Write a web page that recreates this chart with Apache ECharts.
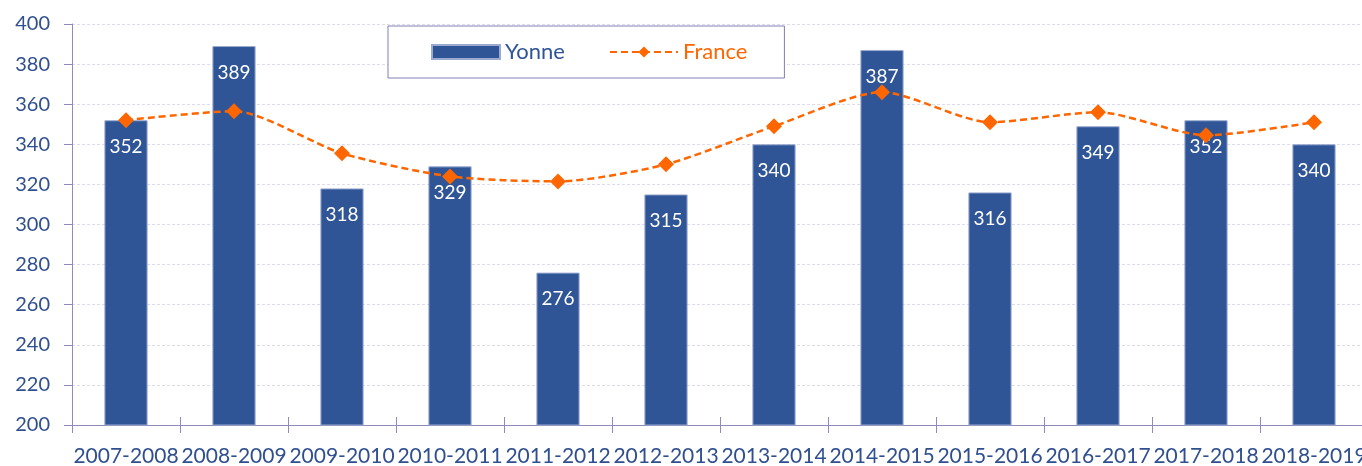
<!DOCTYPE html>
<html>
<head>
<meta charset="utf-8">
<script src="https://cdn.jsdelivr.net/npm/echarts@6/dist/echarts.min.js"></script>
<style>html,body{margin:0;padding:0;background:#fff;}#c{width:1362px;height:466px;}</style>
</head>
<body>
<div id="c"></div>
<script>
const categories = ['2007-2008','2008-2009','2009-2010','2010-2011','2011-2012','2012-2013','2013-2014','2014-2015','2015-2016','2016-2017','2017-2018','2018-2019'];
const yonne = [352, 389, 318, 329, 276, 315, 340, 387, 316, 349, 352, 340];
const france = [352, 356.5, 335.5, 324, 321.5, 330, 349, 366, 351, 356, 344.5, 351];

const FONT = 'Lato';
const BLUE_TXT = '#2F4F8F';
const chart = echarts.init(document.getElementById('c'));
chart.setOption({
  animation: false,
  textStyle: {fontFamily: FONT},
  grid: {left: 72, width: 1296, top: 24, height: 401, containLabel: false, outerBoundsMode: 'none'},
  legend: {
    left: 388, top: 26,
    padding: [15, 37, 15, 43],
    itemGap: 44,
    itemWidth: 68, itemHeight: 14,
    borderColor: '#8080B4', borderWidth: 1,
    backgroundColor: '#fff',
    textStyle: {fontSize: 22, fontFamily: FONT},
    data: [
      {name: 'Yonne', icon: 'rect', textStyle: {color: '#2F5597'}},
      {name: 'France', textStyle: {color: '#FF6600'}}
    ]
  },
  xAxis: [{
    type: 'category', data: categories, boundaryGap: true,
    axisLine: {lineStyle: {color: '#8E8BB8', width: 1}},
    axisTick: {show: true, length: 8, lineStyle: {color: '#8E8BB8'}},
    axisLabel: {color: BLUE_TXT, fontSize: 21, margin: 21, interval: 0, fontFamily: FONT},
    splitLine: {show: false}
  }, {
    type: 'category', data: categories, boundaryGap: true, position: 'bottom',
    axisLine: {show: false},
    axisTick: {show: true, inside: true, length: 8, lineStyle: {color: '#8E8BB8'}},
    axisLabel: {show: false}
  }],
  yAxis: {
    type: 'value', min: 200, max: 400, interval: 20,
    axisLine: {show: true, lineStyle: {color: '#8E8BB8'}},
    axisTick: {show: true, length: 8, lineStyle: {color: '#8E8BB8'}},
    axisLabel: {color: BLUE_TXT, fontSize: 20, margin: 22, fontFamily: FONT},
    splitLine: {show: true, lineStyle: {color: '#DCDCEE', type: [3, 2]}}
  },
  series: [{
    name: 'Yonne', type: 'bar', data: yonne, barWidth: '40%',
    itemStyle: {color: '#2F5597', borderColor: '#9AAAD0', borderWidth: 1},
    label: {show: true, position: 'insideTop', distance: 17, color: '#fff', fontSize: 19, fontFamily: FONT}
  }, {
    name: 'France', type: 'line', data: france, smooth: 0.25,
    symbol: 'diamond', symbolSize: 16,
    lineStyle: {color: '#FF6600', width: 2.5, type: [7, 4]},
    itemStyle: {color: '#FF6600'},
    z: 5
  }]
});
</script>
</body>
</html>
